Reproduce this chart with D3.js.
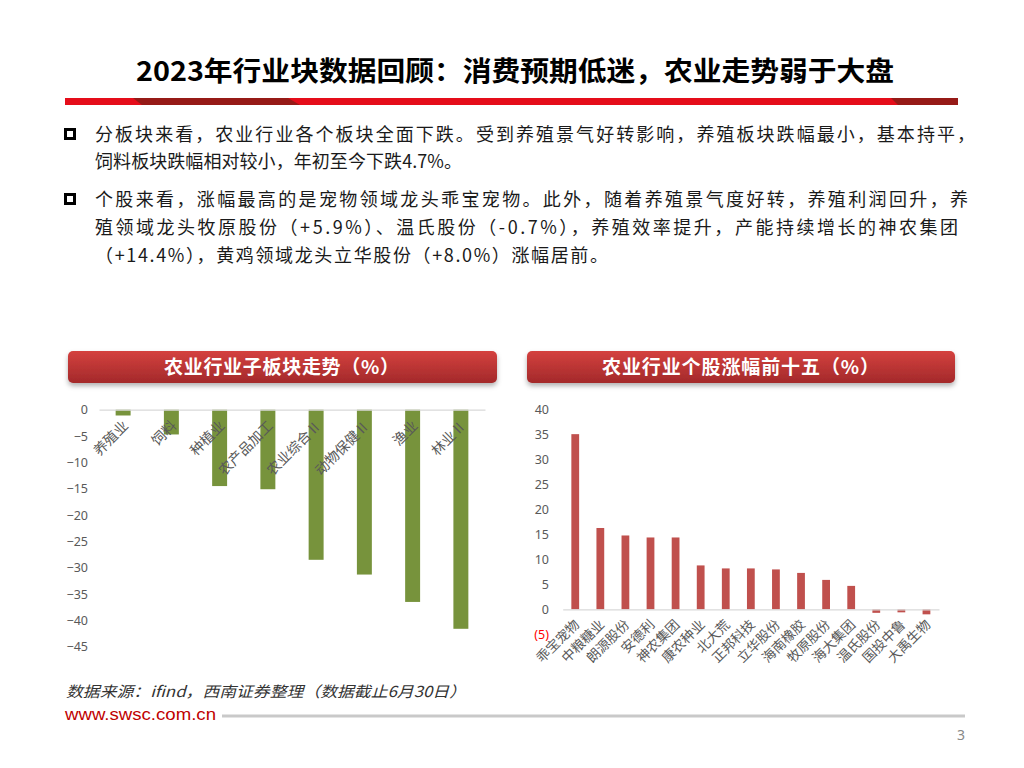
<!DOCTYPE html>
<html>
<head>
<meta charset="utf-8">
<script src="https://cdn.jsdelivr.net/npm/d3@7"></script>
<style>
  html, body { margin: 0; padding: 0; background: #fff; }
  svg { display: block; }
</style>
</head>
<body>
<svg id="page" width="1024" height="768"></svg>
<script>
// ---- data ----
const sectorNames = ["养殖业", "饲料", "种植业", "农产品加工", "农业综合Ⅱ", "动物保健Ⅱ", "渔业", "林业Ⅱ"];
const sectorChange = [-1.1, -4.7, -14.5, -15.1, -28.5, -31.3, -36.5, -41.6];
const sectorTicks = [0, -5, -10, -15, -20, -25, -30, -35, -40, -45];

const stockNames = ["乖宝宠物", "中粮糖业", "朗源股份", "安德利", "神农集团", "康农种业", "北大荒", "正邦科技",
  "立华股份", "海南橡胶", "牧原股份", "海大集团", "温氏股份", "国投中鲁", "大禹生物"];
const stockChange = [35.1, 16.3, 14.8, 14.4, 14.4, 8.8, 8.2, 8.2, 8.0, 7.3, 5.9, 4.7, -0.7, -0.6, -1.0];
const stockTicks = [40, 35, 30, 25, 20, 15, 10, 5, 0, -5];

const svg = d3.select("#page");
const font = '"Noto Sans CJK SC", "Noto Sans", sans-serif';
const numFont = '"Noto Sans", "Open Sans", sans-serif';

// ---- page header ----
svg.append("text")
  .attr("x", 136).attr("y", 81)
  .attr("textLength", 758).attr("lengthAdjust", "spacingAndGlyphs")
  .style("font-family", font).style("font-weight", "bold").style("font-size", "27px")
  .attr("fill", "#000")
  .text("2023年行业块数据回顾：消费预期低迷，农业走势弱于大盘");

svg.append("rect").attr("x", 65).attr("y", 98).attr("width", 893).attr("height", 7).attr("fill", "#e50d1a");
svg.append("polygon").attr("points", "133,98 288,98 300,105 142,105").attr("fill", "#961a17");
svg.append("polygon").attr("points", "891,98 958,98 958,105 898,105").attr("fill", "#961a17");

// ---- bullet text ----
const bullets = [
  { y: 141, box: true, len: 880, t: "分板块来看，农业行业各个板块全面下跌。受到养殖景气好转影响，养殖板块跌幅最小，基本持平，" },
  { y: 168, box: false, len: 367, t: "饲料板块跌幅相对较小，年初至今下跌4.7%。" },
  { y: 206, box: true, len: 873, t: "个股来看，涨幅最高的是宠物领域龙头乖宝宠物。此外，随着养殖景气度好转，养殖利润回升，养" },
  { y: 234, box: false, len: 863, t: "殖领域龙头牧原股份（+5.9%）、温氏股份（-0.7%），养殖效率提升，产能持续增长的神农集团" },
  { y: 262, box: false, len: 513, t: "（+14.4%），黄鸡领域龙头立华股份（+8.0%）涨幅居前。" }
];
bullets.forEach(b => {
  if (b.box) {
    svg.append("rect").attr("x", 65.5).attr("y", b.y - 11.5).attr("width", 9).attr("height", 9)
      .attr("fill", "none").attr("stroke", "#000").attr("stroke-width", 3);
  }
  svg.append("text")
    .attr("x", 95).attr("y", b.y)
    .attr("textLength", b.len).attr("lengthAdjust", "spacing")
    .style("font-family", font).style("font-size", "18px").attr("fill", "#1a1a1a")
    .text(b.t);
});

// ---- chart title panels ----
const defs = svg.append("defs");
const grad = defs.append("linearGradient").attr("id", "panelGrad").attr("x1", 0).attr("y1", 0).attr("x2", 0).attr("y2", 1);
grad.append("stop").attr("offset", "0%").attr("stop-color", "#d4413f");
grad.append("stop").attr("offset", "100%").attr("stop-color", "#a3292a");
const shadow = defs.append("filter").attr("id", "shadow").attr("x", "-5%").attr("y", "-20%").attr("width", "110%").attr("height", "160%");
shadow.append("feDropShadow").attr("dx", 0).attr("dy", 3).attr("stdDeviation", 2.5).attr("flood-color", "#000").attr("flood-opacity", 0.3);

const panels = [
  { x: 68, w: 429, tx: 164, tl: 235, t: "农业行业子板块走势（%）" },
  { x: 527, w: 428, tx: 602, tl: 277, t: "农业行业个股涨幅前十五（%）" }
];
panels.forEach(p => {
  svg.append("rect").attr("x", p.x).attr("y", 351).attr("width", p.w).attr("height", 32)
    .attr("rx", 5).attr("fill", "url(#panelGrad)").attr("filter", "url(#shadow)");
  svg.append("text").attr("x", p.tx).attr("y", 374)
    .attr("textLength", p.tl).attr("lengthAdjust", "spacing")
    .style("font-family", font).style("font-weight", "bold").style("font-size", "19px")
    .attr("fill", "#fff").text(p.t);
});

// ---- left chart: sub-sector change ----
const xL = d3.scaleBand().domain(sectorNames).range([99, 485]).paddingInner(0.69).paddingOuter(0.345);
const yL = d3.scaleLinear().domain([-45, 0]).range([646.7, 409.7]);

svg.append("g").attr("transform", "translate(88,0)")
  .call(d3.axisLeft(yL).tickValues(sectorTicks).tickSize(0).tickPadding(0))
  .call(g => g.select(".domain").remove())
  .selectAll("text").style("font-family", numFont).style("font-size", "12.5px").attr("fill", "#595959");

svg.append("g").selectAll("rect").data(sectorChange).join("rect")
  .attr("x", (d, i) => xL(sectorNames[i]))
  .attr("y", d => yL(Math.max(0, d)))
  .attr("width", xL.bandwidth())
  .attr("height", d => Math.abs(yL(d) - yL(0)))
  .attr("fill", "#77933c");

svg.append("g").attr("transform", `translate(0,${yL(0)})`)
  .call(d3.axisBottom(xL).tickSize(0).tickSizeOuter(0).tickPadding(0))
  .call(g => g.select(".domain").attr("stroke", "#d9d9d9").attr("stroke-width", 1.3))
  .selectAll("text")
  .attr("text-anchor", "end").attr("dy", 0)
  .attr("transform", "translate(6,17) rotate(-45)")
  .style("font-family", font).style("font-size", "14px").attr("fill", "#595959");

// ---- right chart: top 15 stocks ----
const xR = d3.scaleBand().domain(stockNames).range([562.7, 939]).paddingInner(0.69).paddingOuter(0.345);
const yR = d3.scaleLinear().domain([-5, 40]).range([634.3, 409.7]);

svg.append("g").attr("transform", "translate(549,0)")
  .call(d3.axisLeft(yR).tickValues(stockTicks).tickSize(0).tickPadding(0)
    .tickFormat(d => d < 0 ? `(${-d})` : d))
  .call(g => g.select(".domain").remove())
  .selectAll("text").style("font-family", numFont).style("font-size", "12.5px")
  .attr("fill", d => d < 0 ? "#ff0000" : "#595959");

svg.append("g").selectAll("rect").data(stockChange).join("rect")
  .attr("x", (d, i) => xR(stockNames[i]))
  .attr("y", d => yR(Math.max(0, d)))
  .attr("width", xR.bandwidth())
  .attr("height", d => Math.abs(yR(d) - yR(0)))
  .attr("fill", "#c0504d");

svg.append("g").attr("transform", `translate(0,${yR(0)})`)
  .call(d3.axisBottom(xR).tickSize(0).tickSizeOuter(0).tickPadding(0))
  .call(g => g.select(".domain").attr("stroke", "#d9d9d9").attr("stroke-width", 1.3))
  .selectAll("text")
  .attr("text-anchor", "end").attr("dy", 0)
  .attr("transform", "translate(5,16) rotate(-45)")
  .style("font-family", font).style("font-size", "13.5px").attr("fill", "#595959");

// ---- footer ----
svg.append("text").attr("x", 66).attr("y", 697)
  .attr("textLength", 400).attr("lengthAdjust", "spacingAndGlyphs")
  .style("font-family", font).style("font-size", "15px").style("font-style", "italic")
  .attr("fill", "#333").text("数据来源：ifind，西南证券整理（数据截止6月30日）");

svg.append("text").attr("x", 65).attr("y", 720)
  .attr("textLength", 151).attr("lengthAdjust", "spacingAndGlyphs")
  .style("font-family", '"Liberation Sans", Arial, sans-serif').style("font-size", "16px")
  .attr("fill", "#c00000").text("www.swsc.com.cn");
svg.append("line").attr("x1", 222).attr("x2", 965).attr("y1", 716).attr("y2", 716)
  .attr("stroke", "#c9c9c9").attr("stroke-width", 3);

svg.append("text").attr("x", 965).attr("y", 740).attr("text-anchor", "end")
  .style("font-family", numFont).style("font-size", "14px")
  .attr("fill", "#888").text("3");
</script>
</body>
</html>
